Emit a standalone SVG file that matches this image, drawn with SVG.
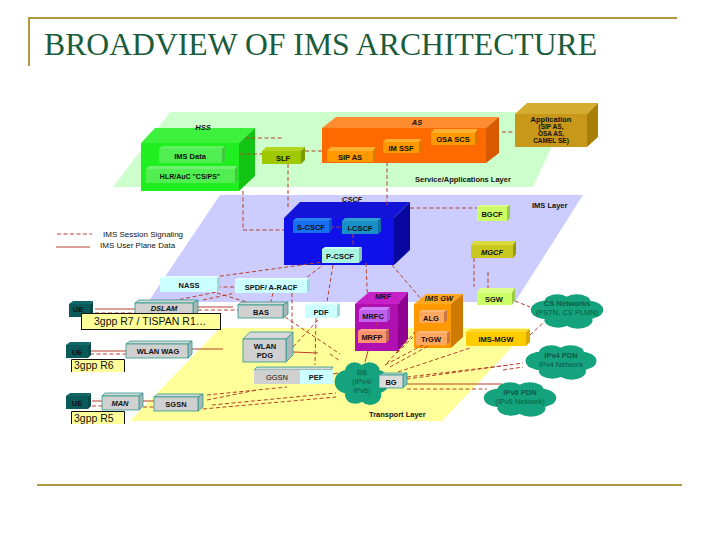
<svg xmlns="http://www.w3.org/2000/svg" xmlns:xlink="http://www.w3.org/1999/xlink" width="720" height="540" viewBox="0 0 720 540">
<style>
text{font-family:"Liberation Sans",Arial,sans-serif;font-size:7.5px;font-weight:700;fill:#111;text-anchor:middle}
.l{text-anchor:start}
.i{font-style:italic}
.title{font-family:"Liberation Serif","Times New Roman",serif;font-size:32px;font-weight:400;fill:#1a5c3c;text-anchor:start}
.legend{font-weight:400;font-size:8px;text-anchor:start}
.cl{font-weight:400;fill:#0b5a48}
.clb{fill:#0b5a48}
.big{font-size:10.5px;font-weight:400;text-anchor:start}
.d{fill:none;stroke:#b5402a;stroke-width:1;stroke-dasharray:4 2.5}
.s{fill:none;stroke:#b5402a;stroke-width:1}
.rule{fill:none;stroke:#b09a40;stroke-width:2}
.tag{fill:#ffff99;stroke:#111;stroke-width:1}
.gr{stroke:#2a9a8a;stroke-width:.8}
.cloud{fill:#14a37c}
</style>
<defs>
<g id="cl" class="cloud">
<ellipse cx="0" cy="0" rx="30" ry="12"/>
<ellipse cx="-20" cy="-1" rx="17" ry="9"/>
<ellipse cx="20" cy="-1" rx="17" ry="9"/>
<ellipse cx="-10" cy="-9" rx="13" ry="7"/>
<ellipse cx="10" cy="-9" rx="14" ry="7"/>
<ellipse cx="-9" cy="9" rx="14" ry="7"/>
<ellipse cx="11" cy="9" rx="15" ry="8"/>
</g>
</defs>

<g id="frame">
<path class="rule" d="M677 18H29V66"/>
<path class="rule" d="M37 485H682"/>
<text class="title" x="44" y="55" textLength="553" lengthAdjust="spacingAndGlyphs">BROADVIEW OF IMS ARCHITECTURE</text>
</g>

<g id="layers">
<polygon points="170,112 568,112 533,187 113,187" fill="#ccffcc"/>
<polygon points="220,195 583,195 515,302 148,302" fill="#ccccff"/>
<polygon points="220,328 530,328 442,421 130,421" fill="#ffff99"/>
<text class="l" x="415" y="182">Service/Applications Layer</text>
<text class="l" x="532" y="208">IMS Layer</text>
<text class="l" x="369" y="417">Transport Layer</text>
</g>

<g id="legend">
<path class="d" d="M57 234H92"/>
<path class="s" d="M56 247H90"/>
<text class="legend" x="103" y="237">IMS Session Signaling</text>
<text class="legend" x="100" y="248">IMS User Plane Data</text>
</g>

<g id="hss">
<polygon points="141,143 155,128 255,128 239,143" fill="#3cf03c"/>
<polygon points="239,143 255,128 255,176 239,191" fill="#14c414"/>
<rect x="141" y="143" width="98" height="48" fill="#1fee1f"/>
<text class="i" x="203" y="130">HSS</text>
</g>
<g id="as">
<polygon points="322,128 336,117 499,117 486,128" fill="#ff8c30"/>
<polygon points="486,128 499,117 499,153 486,163" fill="#d85a00"/>
<rect x="322" y="128" width="164" height="35" fill="#ff6a00"/>
<text class="i" x="417" y="125">AS</text>
</g>
<g id="cscf">
<polygon points="284,218 300,202 410,202 394,218" fill="#1414d8"/>
<polygon points="394,218 410,202 410,250 394,265" fill="#0808a0"/>
<rect x="284" y="218" width="110" height="47" fill="#1010e8"/>
<text class="i" x="352" y="202">CSCF</text>
</g>
<g id="mrf">
<polygon points="355,304 369,292 408,292 398,304" fill="#c820c8"/>
<polygon points="398,304 408,292 408,339 398,351" fill="#900090"/>
<rect x="355" y="304" width="43" height="47" fill="#b010b0"/>
<text class="i" x="383" y="299">MRF</text>
</g>
<g id="ims-gw">
<polygon points="414,304 426,294 463,294 451,304" fill="#ffa820"/>
<polygon points="451,304 463,294 463,337 451,348" fill="#cc7a00"/>
<rect x="414" y="304" width="37" height="44" fill="#ff9900"/>
<text class="i" x="439" y="301">IMS GW</text>
</g>

<g id="clouds-back">
<g id="bb">
<use xlink:href="#cl" href="#cl" transform="translate(362,383) scale(.74,1.3)"/>
<text class="cl" x="362" y="375">BB</text>
<text class="cl" x="362" y="384">(IPv4/</text>
<text class="cl" x="362" y="393">IPv6)</text>
</g>
</g>

<g id="connectors">
<path class="d" d="M245 138H282"/>
<path class="d" d="M240 154H262"/>
<path class="d" d="M305 151H323"/>
<path class="d" d="M288 164V208"/>
<path class="d" d="M243 191V230H284"/>
<path class="d" d="M330 227H342"/>
<path class="d" d="M353 234V249"/>
<path class="d" d="M387 162V207"/>
<path class="d" d="M502 132H527"/>
<path class="d" d="M410 208H477"/>
<path class="d" d="M474 258V287"/>
<path class="d" d="M488 272V288"/>
<path class="d" d="M366 263L368 310"/>
<path class="d" d="M392 265L422 300"/>
<path class="d" d="M333 265L327 302"/>
<path class="d" d="M207 278L323 262"/>
<path class="d" d="M167 302L217 292"/>
<path class="d" d="M203 300L235 293"/>
<path class="d" d="M217 287H235"/>
<path class="d" d="M273 293L270 305"/>
<path class="d" d="M217 293L253 304"/>
<path class="d" d="M292 293V333"/>
<path class="d" d="M318 320L293 347"/>
<path class="d" d="M316 318L315 365"/>
<path class="d" d="M297 285L323 265"/>
<path class="s" d="M95 309H135"/>
<path class="d" d="M95 313H135"/>
<path class="s" d="M198 307H233"/>
<path class="d" d="M198 310H238"/>
<path class="s" d="M90 351H126"/>
<path class="d" d="M90 354H126"/>
<path class="s" d="M192 349H223"/>
<path class="s" d="M293 352L318 353"/>
<path class="d" d="M285 317L340 354"/>
<path class="d" d="M330 354L340 361"/>
<path class="s" d="M92 401H102"/>
<path class="d" d="M92 406H102"/>
<path class="s" d="M143 401H154"/>
<path class="d" d="M143 407H154"/>
<path class="d" d="M207 395L287 387"/>
<path class="d" d="M207 400L257 390"/>
<path class="d" d="M212 405L336 393" stroke-dasharray="14 3"/>
<path class="d" d="M203 409L336 397"/>
<path class="s" d="M333 374L338 373"/>
<path class="s" d="M365 362L368 351"/>
<path class="d" d="M387 363L415 332"/>
<path class="d" d="M385 365L423 345"/>
<path class="d" d="M390 367L430 345"/>
<path class="d" d="M397 353L413 337"/>
<path class="d" d="M398 372L470 348"/>
<path class="d" d="M400 380L523 363" stroke-dasharray="14 3"/>
<path class="d" d="M407 377L510 365"/>
<path class="d" d="M503 370L523 367"/>
<path class="s" d="M407 384H502"/>
<path class="d" d="M407 389H487"/>
<path class="d" d="M515 301L530 307"/>
<path class="d" d="M530 335L543 323"/>
<path class="d" d="M377 322V331"/>
</g>

<g id="ims-data">
<polygon points="159,149 162,146 225,146 222,149" fill="#60f060"/>
<polygon points="222,149 225,146 225,160 222,163" fill="#40c840"/>
<rect x="159" y="149" width="63" height="14" fill="#50ee50"/>
<text x="190" y="158.500">IMS Data</text>
</g>
<g id="hlr">
<polygon points="146,169 149,166 238,166 235,169" fill="#70f070"/>
<polygon points="235,169 238,166 238,180 235,183" fill="#40c840"/>
<rect x="146" y="169" width="89" height="14" fill="#50ee50"/>
<text x="190" y="179" style="font-size:7px">HLR/AuC "CS/PS"</text>
</g>
<g id="slf">
<polygon points="262,151 266,147 305,147 301,151" fill="#b4d420"/>
<polygon points="301,151 305,147 305,160 301,164" fill="#7a9a00"/>
<rect x="262" y="151" width="39" height="13" fill="#a0c800"/>
<text x="283" y="160.500">SLF</text>
</g>
<g id="sip-as">
<polygon points="327,151 331,147 376,147 373,151" fill="#ffb030"/>
<polygon points="373,151 376,147 376,158 373,162" fill="#d87a00"/>
<rect x="327" y="151" width="46" height="11" fill="#ff9900"/>
<text x="350" y="159.500">SIP AS</text>
</g>
<g id="im-ssf">
<polygon points="383,142 386,139 422,139 419,142" fill="#ffb030"/>
<polygon points="419,142 422,139 422,150 419,153" fill="#d87a00"/>
<rect x="383" y="142" width="36" height="11" fill="#ff9900"/>
<text x="401" y="150.500">IM SSF</text>
</g>
<g id="osa-scs">
<polygon points="431,133 434,129 478,129 475,133" fill="#ffb030"/>
<polygon points="475,133 478,129 478,141 475,145" fill="#d87a00"/>
<rect x="431" y="133" width="44" height="12" fill="#ff9900"/>
<text x="453" y="142">OSA SCS</text>
</g>
<g id="application">
<polygon points="515,114 527,103 598,103 587,114" fill="#d4ac30"/>
<polygon points="587,114 598,103 598,137 587,147" fill="#a88008"/>
<rect x="515" y="114" width="72" height="33" fill="#c8981a"/>
<text x="551" y="122">Application</text>
<text x="551" y="129" style="font-size:6.500px">(SIP AS,</text>
<text x="551" y="136" style="font-size:6.500px">OSA AS,</text>
<text x="551" y="143" style="font-size:6.500px">CAMEL SE)</text>
</g>
<g id="s-cscf">
<polygon points="293,221 296,218 332,218 329,221" fill="#2a80f0"/>
<polygon points="329,221 332,218 332,230 329,233" fill="#1050c0"/>
<rect x="293" y="221" width="36" height="12" fill="#1670f0"/>
<text x="311" y="230">S-CSCF</text>
</g>
<g id="i-cscf">
<polygon points="342,221 345,218 381,218 378,221" fill="#30a0d0"/>
<polygon points="378,221 381,218 381,231 378,234" fill="#1070a0"/>
<rect x="342" y="221" width="36" height="13" fill="#1a90c8"/>
<text x="360" y="230.500">I-CSCF</text>
</g>
<g id="p-cscf">
<polygon points="322,249 325,247 362,247 359,249" fill="#c8fff0"/>
<polygon points="359,249 362,247 362,260 359,263" fill="#80c8b0"/>
<rect x="322" y="249" width="37" height="14" fill="#aaf5e0"/>
<text x="340" y="259">P-CSCF</text>
</g>
<g id="bgcf">
<polygon points="477,207 480,205 510,205 507,207" fill="#ddff88"/>
<polygon points="507,207 510,205 510,218 507,221" fill="#99cc44"/>
<rect x="477" y="207" width="30" height="14" fill="#ccff66"/>
<text x="492" y="217">BGCF</text>
</g>
<g id="mgcf">
<polygon points="471,245 474,241 516,241 513,245" fill="#d8d840"/>
<polygon points="513,245 516,241 516,254 513,258" fill="#9a9a00"/>
<rect x="471" y="245" width="42" height="13" fill="#c8c820"/>
<text class="i" x="492" y="254.500">MGCF</text>
</g>
<g id="nass">
<polygon points="160,278 163,276 220,276 217,278" fill="#e0ffff"/>
<polygon points="217,278 220,276 220,289 217,292" fill="#a0d8d8"/>
<rect x="160" y="278" width="57" height="14" fill="#ccffff"/>
<text x="189" y="288">NASS</text>
</g>
<g id="spdf">
<polygon points="235,280 238,278 310,278 307,280" fill="#e0ffff"/>
<polygon points="307,280 310,278 310,290 307,293" fill="#a0d8d8"/>
<rect x="235" y="280" width="72" height="13" fill="#ccffff"/>
<text x="271" y="289.500">SPDF/ A-RACF</text>
</g>
<g id="d-slam">
<polygon points="135,303 139,300 198,300 193,303" fill="#d8d8d8" class="gr"/>
<polygon points="193,303 198,300 198,312 193,318" fill="#a8b8b8" class="gr"/>
<rect x="135" y="303" width="58" height="16" fill="#d0d0d0" class="gr"/>
<text class="i" x="164" y="311">DSLAM</text>
</g>
<g id="ue1">
<polygon points="69,304 73,301 93,301 90,304" fill="#106868"/>
<polygon points="90,304 93,301 93,314 90,317" fill="#084848"/>
<rect x="69" y="304" width="21" height="13" fill="#0a5a5a"/>
<text x="78" y="312">UE</text>
</g>
<g id="tag-r7">
<rect class="tag" x="81.500" y="313.500" width="139" height="16"/>
<text class="big" x="94" y="325">3gpp R7 / TISPAN R1…</text>
</g>
<g id="bas">
<polygon points="238,305 241,302 288,302 283,305" fill="#d8d8d8" class="gr"/>
<polygon points="283,305 288,302 288,314 283,318" fill="#a8b8b8" class="gr"/>
<rect x="238" y="305" width="45" height="13" fill="#d0d0d0" class="gr"/>
<text x="261" y="314.500">BAS</text>
</g>
<g id="pdf">
<polygon points="305,305 308,303 340,303 337,305" fill="#e0ffff"/>
<polygon points="337,305 340,303 340,315 337,318" fill="#a0d8d8"/>
<rect x="305" y="305" width="32" height="13" fill="#ccffff"/>
<text x="321" y="314.500">PDF</text>
</g>
<g id="ue2">
<polygon points="66,345 70,342 91,342 88,345" fill="#106868"/>
<polygon points="88,345 91,342 91,355 88,358" fill="#084848"/>
<rect x="66" y="345" width="22" height="13" fill="#0a5a5a"/>
<text x="77" y="355">UE</text>
</g>
<g id="wlan-wag">
<polygon points="126,344 130,341 192,341 188,344" fill="#d8d8d8" class="gr"/>
<polygon points="188,344 192,341 192,354 188,358" fill="#a8b8b8" class="gr"/>
<rect x="126" y="344" width="62" height="14" fill="#d0d0d0" class="gr"/>
<text x="158" y="354">WLAN WAG</text>
</g>
<g id="tag-r6">
<path d="M72 372V360H124V372Z" fill="#ffff99"/>
<path class="tag" style="fill:none" d="M71.500 372V359.500H124.500V372"/>
<text class="big" x="74" y="369">3gpp R6</text>
</g>
<g id="wlan-pdg">
<polygon points="243,339 250,332 293,332 286,339" fill="#d8d8d8" class="gr"/>
<polygon points="286,339 293,332 293,355 286,362" fill="#a8b8b8" class="gr"/>
<rect x="243" y="339" width="43" height="23" fill="#d0d0d0" class="gr"/>
<text x="265" y="349">WLAN</text>
<text x="265" y="358">PDG</text>
</g>
<g id="ggsn">
<polygon points="254,370 257,367 333,367 331,370" fill="#d8d8d8" class="gr"/>
<rect x="254" y="370" width="46" height="14" fill="#d0d0d0"/>
<text x="277" y="380" style="font-weight:400">GGSN</text>
</g>
<g id="pef">
<rect x="300" y="370" width="33" height="14" fill="#ccffff"/>
<text x="316" y="380">PEF</text>
</g>
<g id="ue3">
<polygon points="66,396 70,393 91,393 88,396" fill="#106868"/>
<polygon points="88,396 91,393 91,406 88,409" fill="#084848"/>
<rect x="66" y="396" width="22" height="13" fill="#0a5a5a"/>
<text x="77" y="406">UE</text>
</g>
<g id="man">
<polygon points="102,396 105,393 143,393 139,396" fill="#d8d8d8" class="gr"/>
<polygon points="139,396 143,393 143,406 139,410" fill="#a8b8b8" class="gr"/>
<rect x="102" y="396" width="37" height="14" fill="#d0d0d0" class="gr"/>
<text class="i" x="120" y="406">MAN</text>
</g>
<g id="sgsn">
<polygon points="154,397 158,394 203,394 198,397" fill="#d8d8d8" class="gr"/>
<polygon points="198,397 203,394 203,407 198,411" fill="#a8b8b8" class="gr"/>
<rect x="154" y="397" width="44" height="14" fill="#d0d0d0" class="gr"/>
<text x="176" y="407">SGSN</text>
</g>
<g id="tag-r5">
<path d="M72 424V412H124V424Z" fill="#ffff99"/>
<path class="tag" style="fill:none" d="M71.500 424V411.500H124.500V424"/>
<text class="big" x="74" y="422">3gpp R5</text>
</g>
<g id="mrfc">
<polygon points="359,310 362,307 390,307 387,310" fill="#d080f8"/>
<polygon points="387,310 390,307 390,319 387,322" fill="#a050c0"/>
<rect x="359" y="310" width="28" height="12" fill="#c060f0"/>
<text x="373" y="319">MRFC</text>
</g>
<g id="mrfp">
<polygon points="358,331 361,329 389,329 386,331" fill="#ffa888"/>
<polygon points="386,331 389,329 389,340 386,343" fill="#c06850"/>
<rect x="358" y="331" width="28" height="12" fill="#ff9070"/>
<text x="372" y="340">MRFP</text>
</g>
<g id="alg">
<polygon points="419,312 422,310 447,310 444,312" fill="#ffb878"/>
<polygon points="444,312 447,310 447,320 444,323" fill="#c87840"/>
<rect x="419" y="312" width="25" height="11" fill="#ffa860"/>
<text x="431" y="320.500">ALG</text>
</g>
<g id="trgw">
<polygon points="416,333 419,331 450,331 447,333" fill="#ffb878"/>
<polygon points="447,333 450,331 450,342 447,345" fill="#c87840"/>
<rect x="416" y="333" width="31" height="12" fill="#ffa860"/>
<text x="431" y="342">TrGW</text>
</g>
<g id="sgw">
<polygon points="477,293 480,288 515,288 512,293" fill="#ddff88"/>
<polygon points="512,293 515,288 515,300 512,305" fill="#99cc44"/>
<rect x="477" y="293" width="35" height="12" fill="#ccff66"/>
<text x="494" y="302">SGW</text>
</g>
<g id="ims-mgw">
<polygon points="466,332 470,329 530,329 526,332" fill="#ffd830"/>
<polygon points="526,332 530,329 530,342 526,346" fill="#d8a800"/>
<rect x="466" y="332" width="60" height="14" fill="#ffcc00"/>
<text x="496" y="342">IMS-MGW</text>
</g>
<g id="cs-networks">
<use xlink:href="#cl" href="#cl" transform="translate(567,311) scale(.98,1.04)"/>
<text class="clb" x="567" y="306">CS Networks</text>
<text class="cl" x="567" y="315">(PSTN, CS PLMN)</text>
</g>
<g id="ipv4-pdn">
<use xlink:href="#cl" href="#cl" transform="translate(561,362) scale(.96,1.04)"/>
<text class="clb" x="561" y="358">IPv4 PDN</text>
<text class="cl" x="561" y="367">IPv4 Network</text>
</g>
<g id="ipv6-pdn">
<use xlink:href="#cl" href="#cl" transform="translate(520,399) scale(.98,1.04)"/>
<text class="clb" x="520" y="395">IPv6 PDN</text>
<text class="cl" x="520" y="404">(IPv6 Network)</text>
</g>
<g id="bg">
<polygon points="379,375 383,373 407,373 403,375" fill="#e0e0e0" class="gr"/>
<polygon points="403,375 407,373 407,384 403,388" fill="#80c0b8" class="gr"/>
<rect x="379" y="375" width="24" height="13" fill="#dcdcdc" class="gr"/>
<text x="391" y="384.500">BG</text>
</g>
</svg>
